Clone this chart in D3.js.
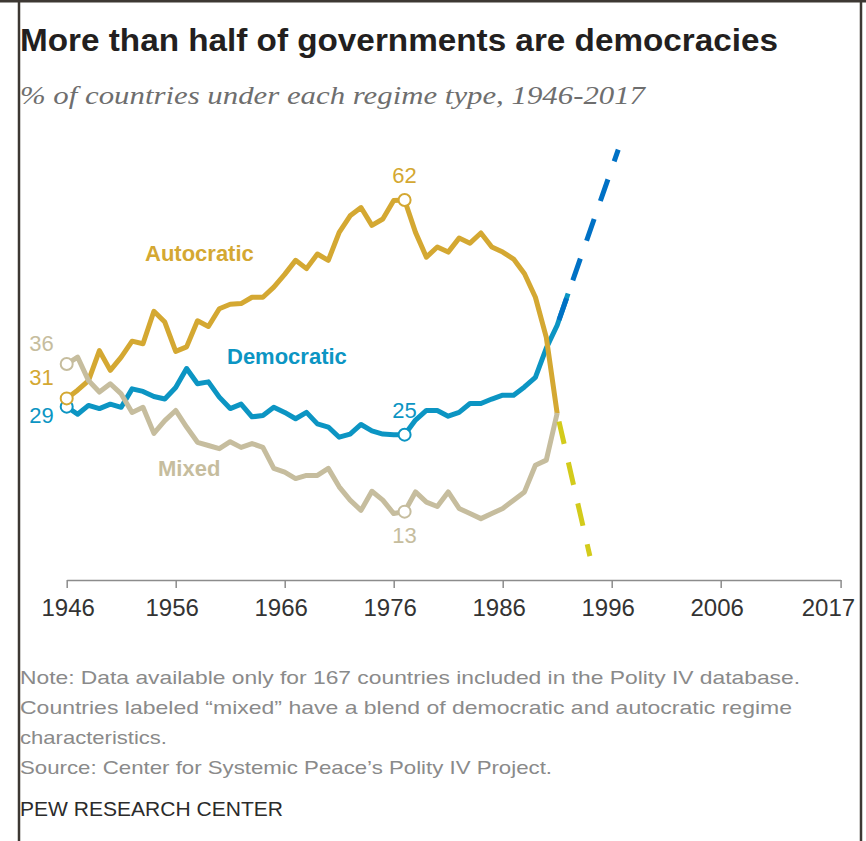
<!DOCTYPE html>
<html lang="en">
  <head>
    <meta charset="UTF-8" />
    <title>Regime types 1946-2017</title>
    <style>
      body {
        margin: 0;
        background: #fff;
      }
      svg text {
        font-family: "Liberation Sans", Arial, sans-serif;
      }
      .line {
        fill: none;
        stroke-width: 5;
        stroke-linejoin: round;
      }
      .dash {
        fill: none;
        stroke-width: 5;
        stroke-dasharray: 23 19;
      }
      .axis path,
      .axis line {
        stroke: #8c8c8c;
        stroke-width: 1.5;
      }
      .axis text {
        font-size: 24px;
        fill: #333;
      }
      .note {
        font-size: 19px;
        fill: #8a8a8a;
      }
    </style>
  </head>
  <body>
    <div id="chart"></div>
  </body>
  <script src="https://cdn.jsdelivr.net/npm/d3@7"></script>
  <script>
    // data, % of countries
    let startYear = 1946;
    let autocratic = [
      30.7, 32.0, 33.5, 38.2, 35.1, 37.2, 39.7, 39.3, 44.4, 42.7,
      38.1, 38.8, 42.9, 42.0, 44.8, 45.5, 45.6, 46.6, 46.6, 48.2,
      50.2, 52.4, 51.1, 53.4, 52.4, 56.8, 59.4, 60.7, 57.9, 58.9,
      61.8, 61.9, 56.8, 52.9, 54.5, 53.7, 55.9, 55.1, 56.7, 54.5,
      53.7, 52.6, 50.3, 46.6, 40.3, 28.3
    ];
    let democratic = [
      29.4, 28.2, 29.6, 29.1, 29.8, 29.3, 32.2, 31.8, 31.0, 30.6,
      32.4, 35.4, 33.0, 33.3, 30.9, 29.1, 29.8, 27.8, 28.0, 29.3,
      28.5, 27.5, 28.5, 26.7, 26.2, 24.6, 25.1, 26.6, 25.6, 25.1,
      25.0, 25.0, 27.3, 28.8, 28.8, 27.9, 28.5, 29.9, 29.9, 30.6,
      31.2, 31.2, 32.5, 34.0, 38.6, 42.2, 47.2
    ];
    let mixed = [
      36.1, 37.2, 33.5, 31.7, 33.0, 31.4, 28.5, 29.3, 25.2, 27.2,
      28.8, 26.2, 23.8, 23.3, 22.8, 23.9, 23.0, 23.6, 23.0, 19.7,
      19.1, 18.1, 18.6, 18.6, 19.7, 16.8, 14.7, 13.1, 16.1, 14.7,
      12.6, 12.9, 16.0, 14.4, 13.7, 16.0, 13.4, 12.6, 11.8, 12.6,
      13.4, 14.7, 16.0, 20.2, 21.0, 28.4
    ];
    // dashed segments still moving in the picture: [year, value]
    let democraticDashed = [[1991, 42.2], [1996.6, 69.8]];
    let autocraticDashed = [[1991, 28.3], [1994, 5.9]];
    let markedYears = [1946, 1977];
    let tickYears = [1946, 1956, 1966, 1976, 1986, 1996, 2006, 2017];

    let width = 866,
      height = 841;

    let x = d3.scaleLinear().domain([1946, 2017]).range([66.7, 840.6]);
    let y = d3.scaleLinear().domain([0, 70]).range([593.7, 148.4]);

    let toPoints = (vals) => vals.map((v, i) => [startYear + i, v]);
    let line = d3
      .line()
      .x((d) => x(d[0]))
      .y((d) => y(d[1]));

    let svg = d3
      .select("#chart")
      .append("svg")
      .attr("width", width)
      .attr("height", height);

    // frame
    svg.append("rect").attr("x", 0).attr("y", 0).attr("width", width).attr("height", height).attr("fill", "#fff");
    svg.append("line").attr("x1", 19).attr("x2", 19).attr("y1", 0).attr("y2", height)
      .attr("stroke", "#3d3833").attr("stroke-width", 2.5);
    svg.append("line").attr("x1", 861).attr("x2", 861).attr("y1", 0).attr("y2", height)
      .attr("stroke", "#3d3833").attr("stroke-width", 2.5);
    svg.append("line").attr("x1", 0).attr("x2", width).attr("y1", 1).attr("y2", 1)
      .attr("stroke", "#3d3833").attr("stroke-width", 3);

    // titles
    svg.append("text")
      .text("More than half of governments are democracies")
      .attr("x", 20).attr("y", 51)
      .attr("textLength", 758).attr("lengthAdjust", "spacingAndGlyphs")
      .style("font-size", "31px").style("font-weight", "bold").attr("fill", "#231f20");
    svg.append("text")
      .text("% of countries under each regime type, 1946-2017")
      .attr("x", 20).attr("y", 104)
      .attr("textLength", 625).attr("lengthAdjust", "spacingAndGlyphs")
      .style("font-family", "'Liberation Serif', Georgia, serif")
      .style("font-style", "italic").style("font-size", "26px").attr("fill", "#6e6e6e");

    // x axis
    let xAxis = d3.axisBottom(x).tickValues(tickYears).tickFormat(d3.format("d"))
      .tickSize(8).tickSizeOuter(0).tickPadding(11);
    let gx = svg.append("g").attr("class", "axis").attr("transform", "translate(0,580)").call(xAxis);
    gx.selectAll(".tick text").attr("dx", (d, i) => (i == 0 ? 1 : -4));
    gx.selectAll(".tick text").filter((d) => d == 2017).attr("text-anchor", "end").attr("dx", 14);

    let series = [
      { name: "Democratic", values: democratic, color: "#0c95c3", startDy: 16, markDy: -17 },
      { name: "Autocratic", values: autocratic, color: "#d4a832", startDy: -13, markDy: -17 },
      { name: "Mixed", values: mixed, color: "#c6bd9e", startDy: -13, markDy: 31 }
    ];

    series.forEach((s) => {
      svg.append("path").attr("class", "line").attr("stroke", s.color).attr("d", line(toPoints(s.values)));
    });

    // dashed moving segments
    svg.append("path").attr("class", "dash").attr("stroke", "#0071c5")
      .style("stroke-dashoffset", 36.5).attr("d", line(democraticDashed));
    svg.append("path").attr("class", "dash").attr("stroke", "#d3cb1b")
      .style("stroke-dashoffset", 34).attr("d", line(autocraticDashed));

    // circles and value labels
    series.forEach((s) => {
      markedYears.forEach((yr) => {
        let v = s.values[yr - startYear];
        svg.append("circle").attr("cx", x(yr)).attr("cy", y(v)).attr("r", 6)
          .attr("fill", "#fff").attr("stroke", s.color).attr("stroke-width", 2);
        let t = svg.append("text").text(Math.round(v)).attr("fill", s.color).style("font-size", "22px");
        if (yr == startYear) {
          t.attr("x", x(yr) - 13).attr("y", y(v) + s.startDy).attr("text-anchor", "end");
        } else {
          t.attr("x", x(yr)).attr("y", y(v) + s.markDy).attr("text-anchor", "middle");
        }
      });
    });

    // series names
    let names = [
      { text: "Autocratic", x: 145, y: 261, color: "#d4a832" },
      { text: "Democratic", x: 227, y: 364, color: "#0c95c3" },
      { text: "Mixed", x: 158, y: 476, color: "#c6bd9e" }
    ];
    names.forEach((n) => {
      svg.append("text").text(n.text).attr("x", n.x).attr("y", n.y)
        .attr("fill", n.color).style("font-size", "22px").style("font-weight", "bold");
    });

    // notes
    let notes = [
      ["Note: Data available only for 167 countries included in the Polity IV database.", 684, 780],
      ["Countries labeled \u201cmixed\u201d have a blend of democratic and autocratic regime", 714, 772],
      ["characteristics.", 744, 147],
      ["Source: Center for Systemic Peace\u2019s Polity IV Project.", 774, 532]
    ];
    notes.forEach((n) => {
      svg.append("text").attr("class", "note").text(n[0]).attr("x", 20).attr("y", n[1])
        .attr("textLength", n[2]).attr("lengthAdjust", "spacingAndGlyphs");
    });
    svg.append("text").text("PEW RESEARCH CENTER").attr("x", 20).attr("y", 816)
      .attr("textLength", 263).attr("lengthAdjust", "spacingAndGlyphs")
      .style("font-size", "20px").attr("fill", "#2b2b2b");
  </script>
</html>
